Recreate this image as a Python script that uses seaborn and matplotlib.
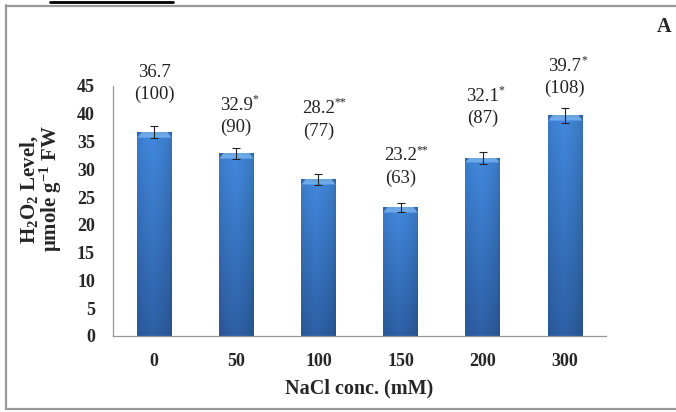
import numpy as np
import pandas as pd
import matplotlib
matplotlib.use("Agg")
import matplotlib.pyplot as plt
from matplotlib.lines import Line2D
import seaborn as sns

# NaCl treatments and measured H2O2 content
nacl_levels = ["0", "50", "100", "150", "200", "300"]
h2o2_means = [36.7, 32.9, 28.2, 23.2, 32.1, 39.7]
h2o2_errors = [1.1, 1.0, 1.0, 0.8, 1.05, 1.3]
percent_of_control = [100, 90, 77, 63, 87, 108]
significance = ["", "*", "**", "**", "*", "*"]
# gap between error-bar cap and the centre of each two-line label (data units)
label_gaps = [7.7, 5.6, 9.7, 6.4, 8.0, 5.5]

df = pd.DataFrame({"NaCl": nacl_levels, "H2O2": h2o2_means})

sns.set_theme(style="white")
plt.rcParams["font.family"] = ["Liberation Serif", "DejaVu Serif"]
plt.rcParams["mathtext.fontset"] = "custom"
plt.rcParams["mathtext.rm"] = "Liberation Serif"
plt.rcParams["mathtext.it"] = "Liberation Serif:italic"
plt.rcParams["mathtext.bf"] = "Liberation Serif:bold"

W, H = 676, 412
fig = plt.figure(figsize=(W / 100, H / 100), dpi=100)
fig.patch.set_facecolor("white")
ax = fig.add_axes([113 / W, 76 / H, 493 / W, 250 / H])

sns.barplot(data=df, x="NaCl", y="H2O2", color="#3a75c0", width=0.42,
            errorbar=None, ax=ax, saturation=1, zorder=2)

# glossy bar fill: brighter top, darker bottom, slightly darker sides
top_col = np.array([66, 137, 222]) / 255
bot_col = np.array([46, 96, 166]) / 255
bevel_col = np.array([112, 172, 236]) / 255
cols = 60
u = np.linspace(0, 1, cols)
side = 0.82 + 0.18 * np.clip(1 - np.abs(u - 0.45) / 0.55, 0, 1) ** 0.5
for p in list(ax.patches):
    x0, y0 = p.get_x(), p.get_y()
    w, h = p.get_width(), p.get_height()
    rows = 400
    v = np.linspace(1, 0, rows)[:, None, None]  # top row first
    img = (bot_col + (top_col - bot_col) * v) * side[None, :, None]
    nb = max(1, int(round(rows * 1.0 / h)))
    for r in range(nb):
        frac = r / nb
        inset = 0.12 * (1 - frac)
        mask = (u > inset) & (u < 1 - inset)
        img[r, mask] = bevel_col * (0.95 + 0.05 * frac)
        img[r, ~mask] = top_col * 0.75
    im = ax.imshow(np.clip(img, 0, 1), extent=[x0, x0 + w, y0, y0 + h],
                   aspect="auto", origin="upper", zorder=2.1,
                   interpolation="bilinear")
    im.set_clip_path(p)

ax.errorbar(x=np.arange(len(nacl_levels)), y=h2o2_means, yerr=h2o2_errors,
            fmt="none", ecolor="#222222", elinewidth=0.8, capsize=3.2,
            capthick=0.8, zorder=3)

for i, (m, e, pc, s, g) in enumerate(zip(h2o2_means, h2o2_errors,
                                         percent_of_control, significance,
                                         label_gaps)):
    yc = m + e + g
    num = ax.annotate(f"{m:.1f}", xy=(i, yc), xytext=(0, 8),
                      textcoords="offset points", ha="center", va="center",
                      fontsize=13.5, color="#222222", annotation_clip=False)
    if s:
        ax.annotate(s, xy=(1, 1.0), xycoords=num, xytext=(-0.3, 2.5),
                    textcoords="offset points", ha="left", va="top",
                    fontsize=8.5, color="#222222", annotation_clip=False)
    ax.annotate(f"({pc})", xy=(i, yc), xytext=(0, -8),
                textcoords="offset points", ha="center", va="center",
                fontsize=13.5, color="#222222", annotation_clip=False)

ax.set_xlim(-0.5, len(nacl_levels) - 0.5)
ax.set_ylim(0, 45)
ax.set_yticks(np.arange(0, 46, 5))
ax.set_yticklabels([str(t) for t in range(0, 46, 5)], fontweight="bold",
                   fontsize=13)
ax.set_xticks(np.arange(-0.5, len(nacl_levels), 1))
ax.set_xticklabels([])
ax.set_xticks(np.arange(len(nacl_levels)), minor=True)
ax.set_xticklabels(nacl_levels, minor=True, fontweight="bold", fontsize=13)
ax.tick_params(axis="x", which="major", direction="out", length=5,
               color="#999999", width=0.9)
ax.tick_params(axis="x", which="minor", length=0, pad=12)
ax.tick_params(axis="y", direction="out", length=4, color="#999999",
               width=0.9, pad=9)
for side_name in ["top", "right"]:
    ax.spines[side_name].set_visible(False)
for side_name in ["left", "bottom"]:
    ax.spines[side_name].set_color("#999999")
    ax.spines[side_name].set_linewidth(0.9)
ax.set_xlabel("NaCl conc. (mM)", fontweight="bold", fontsize=14.5, labelpad=6)
ax.set_ylabel("")

fig.text(29 / W, 1 - 190 / H, r"$\mathbf{H_2O_2\ Level,}$", rotation=90,
         ha="center", va="center", fontsize=15)
fig.text(51 / W, 1 - 189 / H, r"$\mathbf{\mu mole\ g^{-1}\ FW}$", rotation=90,
         ha="center", va="center", fontsize=15)
fig.text(664 / W, 1 - 27 / H, "A", ha="center", va="center",
         fontweight="bold", fontsize=14.5)

# panel frame
fc = "#9a9a9a"
fig.add_artist(Line2D([5.5 / W, 5.5 / W], [1 - 5 / H, 1 - 409 / H],
                      transform=fig.transFigure, color=fc, lw=1.6))
fig.add_artist(Line2D([5.5 / W, 1], [1 - 5.5 / H, 1 - 5.5 / H],
                      transform=fig.transFigure, color=fc, lw=1.6))
fig.add_artist(Line2D([5.5 / W, 1], [1 - 408.5 / H, 1 - 408.5 / H],
                      transform=fig.transFigure, color=fc, lw=1.6))
# underline of the caption above the panel
fig.add_artist(Line2D([50 / W, 173 / W], [1 - 1.8 / H, 1 - 1.8 / H],
                      transform=fig.transFigure, color="black", lw=2))

fig.savefig("out.png", dpi=100, facecolor="white")
